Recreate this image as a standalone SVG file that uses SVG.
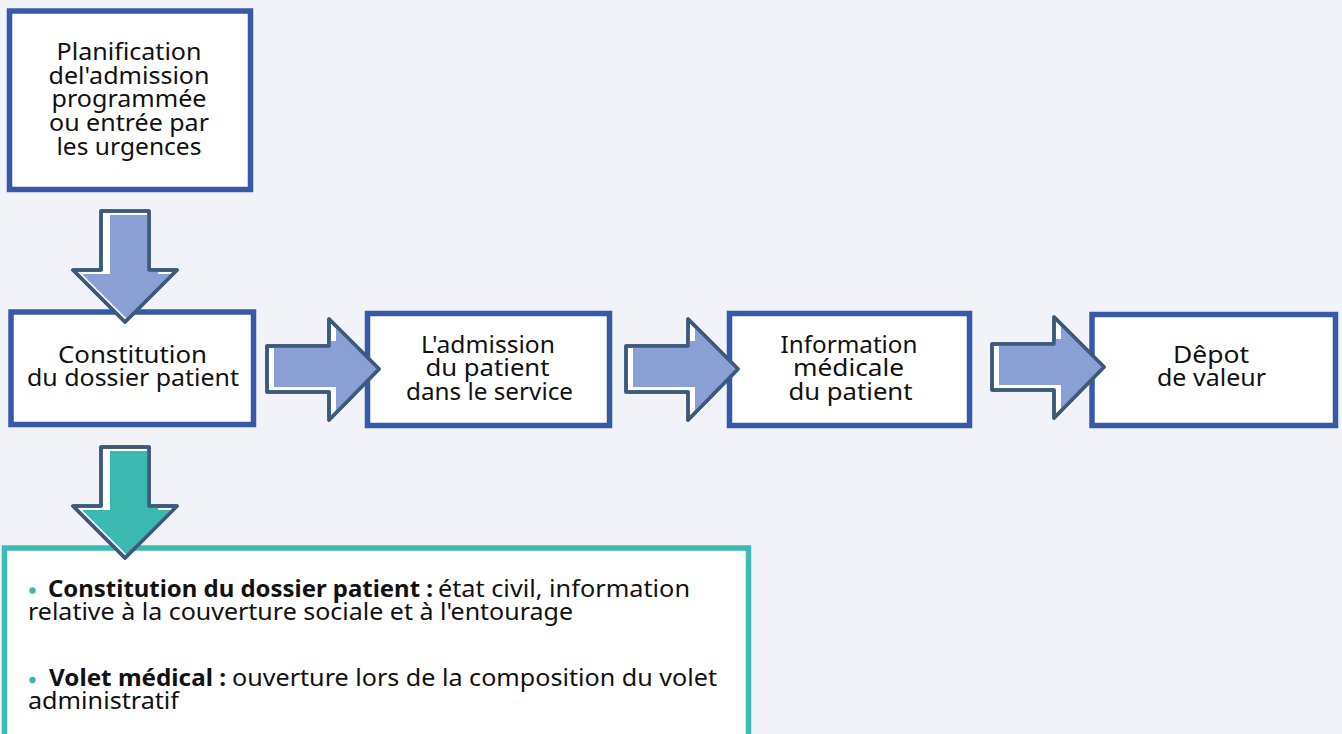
<svg xmlns="http://www.w3.org/2000/svg" width="1342" height="734" viewBox="0 0 1342 734">
<style>
.box{fill:#ffffff;stroke:#3759a6;stroke-width:5.5}
.tbox{fill:#ffffff;stroke:#3dbab2;stroke-width:5.5}
.t{font-family:"Noto Sans","Liberation Sans",sans-serif;font-size:24px;fill:#111111;text-anchor:middle}
.b{font-family:"Noto Sans","Liberation Sans",sans-serif;font-size:24px;fill:#111111}
.bold{font-weight:bold}
.ol{fill:#ffffff;stroke:#3d5a7b;stroke-width:3.5;stroke-linejoin:round}
.olt{fill:none;stroke:#3d5a7b;stroke-width:3.5;stroke-linejoin:round}
.fb{fill:#8a9fd3}
.ft{fill:#3bb9b1}
</style>
<defs>
<path id="rarrow" d="M0,-23 L62,-23 L62,-50 L112,0 L62,51 L62,23 L0,23 Z"/>
<path id="darrow" d="M-24,0 L24,0 L24,59 L52,59 L0,111 L-52,59 L-24,59 Z"/>
<clipPath id="rclip"><use href="#rarrow"/></clipPath>
<clipPath id="dclip"><use href="#darrow"/></clipPath>
</defs>
<rect x="0" y="0" width="1342" height="734" fill="#f2f3f9"/>

<g id="n1">
<rect class="box" x="9.5" y="11" width="241" height="178.5"/>
<text class="t" x="129" y="60" textLength="145" lengthAdjust="spacingAndGlyphs">Planification</text>
<text class="t" x="129" y="83.5" textLength="161" lengthAdjust="spacingAndGlyphs">del'admission</text>
<text class="t" x="129" y="107" textLength="155" lengthAdjust="spacingAndGlyphs">programmée</text>
<text class="t" x="129" y="131" textLength="160" lengthAdjust="spacingAndGlyphs">ou entrée par</text>
<text class="t" x="129" y="154.5" textLength="145" lengthAdjust="spacingAndGlyphs">les urgences</text>
</g>

<g id="n2">
<rect class="box" x="11" y="312" width="242.5" height="112.5"/>
<text class="t" x="132.5" y="363" textLength="149" lengthAdjust="spacingAndGlyphs">Constitution</text>
<text class="t" x="133" y="386" textLength="212" lengthAdjust="spacingAndGlyphs">du dossier patient</text>
</g>

<g id="n3">
<rect class="box" x="367.5" y="313.5" width="242" height="112"/>
<text class="t" x="488" y="353" textLength="134" lengthAdjust="spacingAndGlyphs">L'admission</text>
<text class="t" x="487.5" y="376" textLength="124" lengthAdjust="spacingAndGlyphs">du patient</text>
<text class="t" x="489.5" y="400" textLength="167" lengthAdjust="spacingAndGlyphs">dans le service</text>
</g>

<g id="n4">
<rect class="box" x="729.5" y="313.5" width="240" height="112"/>
<text class="t" x="849" y="353" textLength="137" lengthAdjust="spacingAndGlyphs">Information</text>
<text class="t" x="848.5" y="376" textLength="111" lengthAdjust="spacingAndGlyphs">médicale</text>
<text class="t" x="850.5" y="400" textLength="124" lengthAdjust="spacingAndGlyphs">du patient</text>
</g>

<g id="n5">
<rect class="box" x="1092" y="314.5" width="243.5" height="111"/>
<text class="t" x="1211" y="363" textLength="76" lengthAdjust="spacingAndGlyphs">Dêpot</text>
<text class="t" x="1211.5" y="386" textLength="109" lengthAdjust="spacingAndGlyphs">de valeur</text>
</g>

<g id="n6">
<rect class="tbox" x="4.5" y="548" width="744" height="200"/>
<circle cx="32.5" cy="590.5" r="3.2" fill="#3bb9b1"/>
<text class="b bold" x="48" y="597" textLength="385" lengthAdjust="spacingAndGlyphs">Constitution du dossier patient :</text>
<text class="b" x="438" y="597" textLength="252" lengthAdjust="spacingAndGlyphs">état civil, information</text>
<text class="b" x="28" y="620" textLength="545" lengthAdjust="spacingAndGlyphs">relative à la couverture sociale et à l'entourage</text>
<circle cx="32.5" cy="680" r="3.2" fill="#3bb9b1"/>
<text class="b bold" x="49" y="686" textLength="177" lengthAdjust="spacingAndGlyphs">Volet médical :</text>
<text class="b" x="232" y="686" textLength="485" lengthAdjust="spacingAndGlyphs">ouverture lors de la composition du volet</text>
<text class="b" x="28" y="709" textLength="151" lengthAdjust="spacingAndGlyphs">administratif</text>
</g>

<g id="connectors">
<g transform="translate(125,211)">
<use href="#darrow" class="ol"/>
<g clip-path="url(#dclip)"><use href="#darrow" class="fb" transform="translate(9,4)"/></g>
<use href="#darrow" class="olt"/>
</g>
<g transform="translate(125,447)">
<use href="#darrow" class="ol"/>
<g clip-path="url(#dclip)"><use href="#darrow" class="ft" transform="translate(9,4)"/></g>
<use href="#darrow" class="olt"/>
</g>
<g transform="translate(267,369)">
<use href="#rarrow" class="ol"/>
<g clip-path="url(#rclip)"><use href="#rarrow" class="fb" transform="translate(7,-5)"/></g>
<use href="#rarrow" class="olt"/>
</g>
<g transform="translate(626,369)">
<use href="#rarrow" class="ol"/>
<g clip-path="url(#rclip)"><use href="#rarrow" class="fb" transform="translate(7,-5)"/></g>
<use href="#rarrow" class="olt"/>
</g>
<g transform="translate(992,367)">
<use href="#rarrow" class="ol"/>
<g clip-path="url(#rclip)"><use href="#rarrow" class="fb" transform="translate(7,-5)"/></g>
<use href="#rarrow" class="olt"/>
</g>
</g>
</svg>
